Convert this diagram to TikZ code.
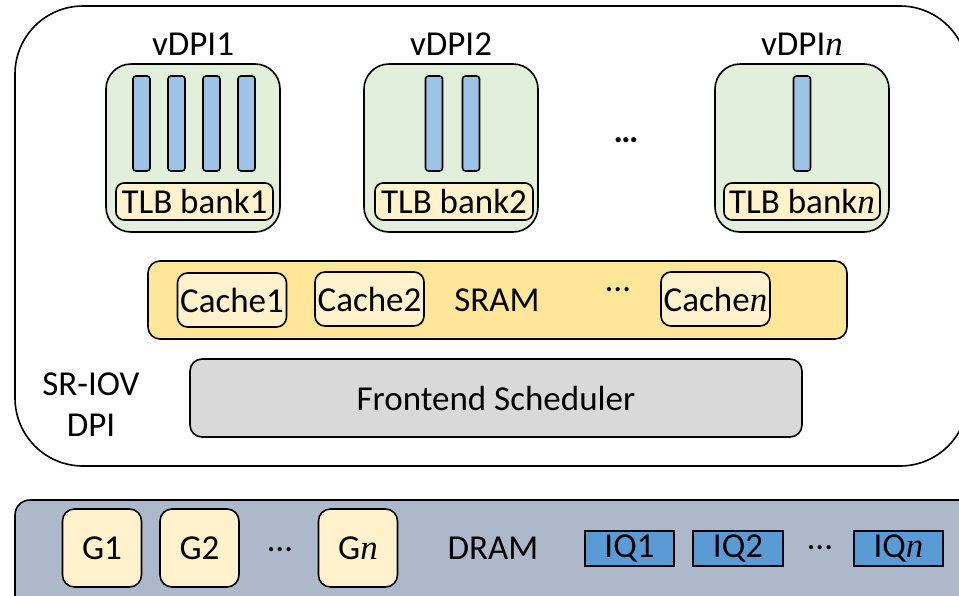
\documentclass[tikz,border=0pt]{standalone}
\usepackage{fontspec}
\setmainfont{Carlito}
\newfontfamily\nfont{Liberation Serif}
\newcommand{\nv}{{\nfont\itshape n}}
\definecolor{vgreen}{RGB}{226,239,218}
\definecolor{barblue}{RGB}{157,195,230}
\definecolor{lightyel}{RGB}{255,242,204}
\definecolor{sramyel}{RGB}{255,230,153}
\definecolor{schedgray}{RGB}{217,217,217}
\definecolor{dramgray}{RGB}{173,185,202}
\definecolor{iqblue}{RGB}{91,155,213}
\begin{document}
\begin{tikzpicture}[x=1pt,y=-1pt,
  every node/.style={font=\fontsize{35}{41}\selectfont, inner sep=0pt, outer sep=0pt},
  base/.style={draw=black, line width=1.6pt},
  outerbox/.style={base, rounded corners=68pt},
  vbox/.style={base, fill=vgreen, rounded corners=25pt, minimum width=174pt, minimum height=168pt},
  bar/.style={base, fill=barblue, rounded corners=3pt, minimum width=17pt, minimum height=95pt},
  tlb/.style={base, fill=lightyel, rounded corners=8pt, minimum height=37pt},
  sram/.style={base, fill=sramyel, rounded corners=12pt, minimum width=699pt, minimum height=78pt},
  cache/.style={base, fill=lightyel, rounded corners=10pt, minimum width=109pt, minimum height=54pt},
  sched/.style={base, fill=schedgray, rounded corners=12pt, minimum width=612pt, minimum height=78pt},
  dram/.style={base, fill=dramgray, rounded corners=15pt, minimum width=960pt, minimum height=120pt},
  gbox/.style={base, fill=lightyel, rounded corners=12pt, minimum width=79pt, minimum height=78pt},
  iq/.style={base, fill=iqblue, minimum width=89pt, minimum height=35pt},
  lbl/.style={anchor=base}
]
\useasboundingbox (0,0) rectangle (959,595);
% outer DPI box
\node[outerbox, minimum width=953pt, minimum height=460pt] (dpi) at (491.5,236) {};
% vDPI boxes
\node[vbox] (v1) at (193,148) {};
\node[vbox] (v2) at (451,148) {};
\node[vbox] (vn) at (802,148) {};
\node[lbl] (v1l) at (193,55) {vDPI1};
\node[lbl] (v2l) at (451,55) {vDPI2};
\node[lbl] (vnl) at (802,55) {vDPI\nv};
% bars
\node[bar] (b11) at (141.5,123.5) {};
\node[bar] (b12) at (176.5,123.5) {};
\node[bar] (b13) at (211.5,123.5) {};
\node[bar] (b14) at (246.5,123.5) {};
\node[bar] (b21) at (434,123.5) {};
\node[bar] (b22) at (471,123.5) {};
\node[bar] (bn1) at (802,123.5) {};
% TLB banks
\node[tlb, minimum width=157pt] (t1) at (194.5,201.5) {TLB bank1};
\node[tlb, minimum width=158pt] (t2) at (454,201.5) {TLB bank2};
\node[tlb, minimum width=156pt] (tn) at (802,201.5) {TLB bank\nv};
\node (vdots) at (626,140) {\textbf{…}};
% SRAM
\node[sram] (sr) at (497.5,300) {};
\node[cache] (c1) at (232,300) {Cache1};
\node[cache] (c2) at (369.5,299) {Cache2};
\node[cache] (cn) at (715.5,299) {Cache\nv};
\node (srl) at (497,300) {SRAM};
\node (cdots) at (618,290) {…};
% scheduler
\node[sched] (fs) at (496,398) {Frontend Scheduler};
\node[align=center] (sriov) at (91,404.5) {SR-IOV\\DPI};
% DRAM
\node[dram] (dr) at (495,560) {};
\node[gbox] (g1) at (102,548) {G1};
\node[gbox] (g2) at (199.5,548) {G2};
\node[gbox] (gn) at (358,548) {G\nv};
\node (gdots) at (280,550) {…};
\node (drl) at (493,548) {DRAM};
\node[iq] (q1) at (629.5,548.5) {IQ1};
\node[iq, minimum width=90pt] (q2) at (738,548.5) {IQ2};
\node[iq] (qn) at (898.5,548.5) {IQ\nv};
\node (qdots) at (820,548) {…};
\end{tikzpicture}
\end{document}
